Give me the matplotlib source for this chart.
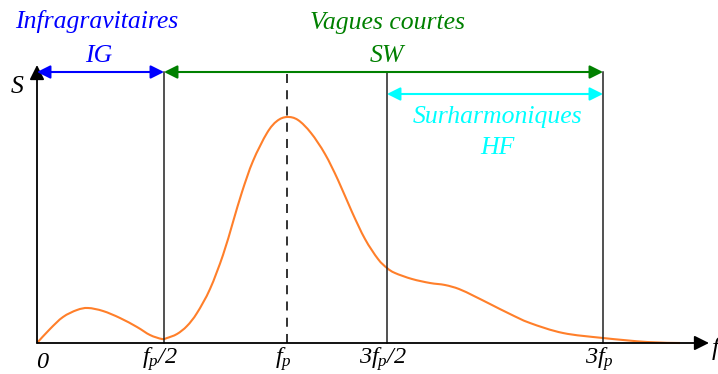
import numpy as np
import matplotlib.pyplot as plt
import matplotlib.patches as mpatches
from matplotlib.path import Path

plt.rcParams['font.family'] = ['Liberation Serif', 'DejaVu Serif']
plt.rcParams['mathtext.fontset'] = 'custom'
plt.rcParams['mathtext.rm'] = 'Liberation Serif:italic'
plt.rcParams['mathtext.it'] = 'Liberation Serif:italic'

# spectrum S(f) (arbitrary units)
freq = [0, 13, 26, 40, 51, 66, 83, 100, 113, 125, 130, 140, 150, 160, 173,
        186, 196, 205, 216, 230, 240, 250, 261, 274, 288, 301, 315, 328,
        341, 350, 358, 375, 393, 408, 422, 437, 453, 473, 493, 526, 566,
        610, 643]
spec = [0, 14, 26, 33, 35, 32, 25, 16, 8, 4, 5, 9, 17, 30, 54,
        88, 121, 151, 182, 210, 222, 226, 223, 210, 189, 163, 131, 104,
        84, 75, 70, 64, 60, 58, 54, 47, 39, 29, 20, 10, 5,
        1, 0]

tick_pos = [0, 127, 250, 350, 566]
tick_labels = ['$0$', '$f_p/2$', '$f_p$', '$3f_p/2$', '$3f_p$']

fig = plt.figure(figsize=(7.18, 3.74), dpi=100)
ax = fig.add_axes([0, 0, 1, 1])
ax.set_xlim(-37, 681)
ax.set_ylim(-31, 343)
ax.axis('off')

top = 271
fs = 18.5
fs_tick = 17.5

# axes with arrows
ax.annotate('', xy=(672, 0), xytext=(0, 0),
            arrowprops=dict(arrowstyle='-|>', color='black', lw=1.3,
                            mutation_scale=22, shrinkA=0, shrinkB=0))
ax.annotate('', xy=(0, 278), xytext=(0, 0),
            arrowprops=dict(arrowstyle='-|>', color='black', lw=1.3,
                            mutation_scale=22, shrinkA=0, shrinkB=0))
ax.text(-20, 256, 'S', fontsize=fs, style='italic', ha='center', va='center')
ax.text(675, -6, 'f', fontsize=fs, style='italic', ha='left', va='center')

# vertical markers
for x in [tick_pos[1], tick_pos[3], tick_pos[4]]:
    ax.plot([x, x], [0, top], color='#222222', lw=1.1)
ax.plot([tick_pos[2], tick_pos[2]], [0, top], color='#222222', lw=1.3,
        ls=(0, (5, 4)))

# smooth curve through the read points (Catmull-Rom as cubic Bezier)
pts = np.column_stack([freq, spec]).astype(float)
verts = [pts[0]]
codes = [Path.MOVETO]
for i in range(len(pts) - 1):
    p0 = pts[max(i - 1, 0)]
    p1 = pts[i]
    p2 = pts[i + 1]
    p3 = pts[min(i + 2, len(pts) - 1)]
    verts += [p1 + (p2 - p0) / 6, p2 - (p3 - p1) / 6, p2]
    codes += [Path.CURVE4] * 3
ax.add_patch(mpatches.PathPatch(Path(verts, codes), fill=False,
                                edgecolor='#ff7f2a', lw=1.5))

# tick labels
ax.text(tick_pos[0] + 6, -20, tick_labels[0], fontsize=fs_tick, ha='center',
        va='center')
for x, lab in zip(tick_pos[1:], tick_labels[1:]):
    ax.text(x - 4, -21, lab, fontsize=fs_tick, ha='center', va='baseline')

# band arrows
def band(x0, x1, y, col):
    ax.annotate('', xy=(x1, y), xytext=(x0, y),
                arrowprops=dict(arrowstyle='<|-|>', color=col, lw=1.5,
                                mutation_scale=20, shrinkA=0, shrinkB=0))

band(0, 127, top, '#0000ff')
band(127, 566, top, '#008000')
band(350, 566, 249, '#00ffff')

ax.text(60, 322, 'Infragravitaires', color='#0000ff', fontsize=fs,
        style='italic', ha='center', va='center')
ax.text(62, 287, 'IG', color='#0000ff', fontsize=fs, style='italic',
        ha='center', va='center')
ax.text(350, 320, 'Vagues courtes', color='#008000', fontsize=fs,
        style='italic', ha='center', va='center')
ax.text(350, 287, 'SW', color='#008000', fontsize=fs, style='italic',
        ha='center', va='center')
ax.text(461, 226, 'Surharmoniques', color='#00ffff', fontsize=fs,
        style='italic', ha='center', va='center')
ax.text(460, 195, 'HF', color='#00ffff', fontsize=fs, style='italic',
        ha='center', va='center')

fig.savefig('out.png', dpi=100)
